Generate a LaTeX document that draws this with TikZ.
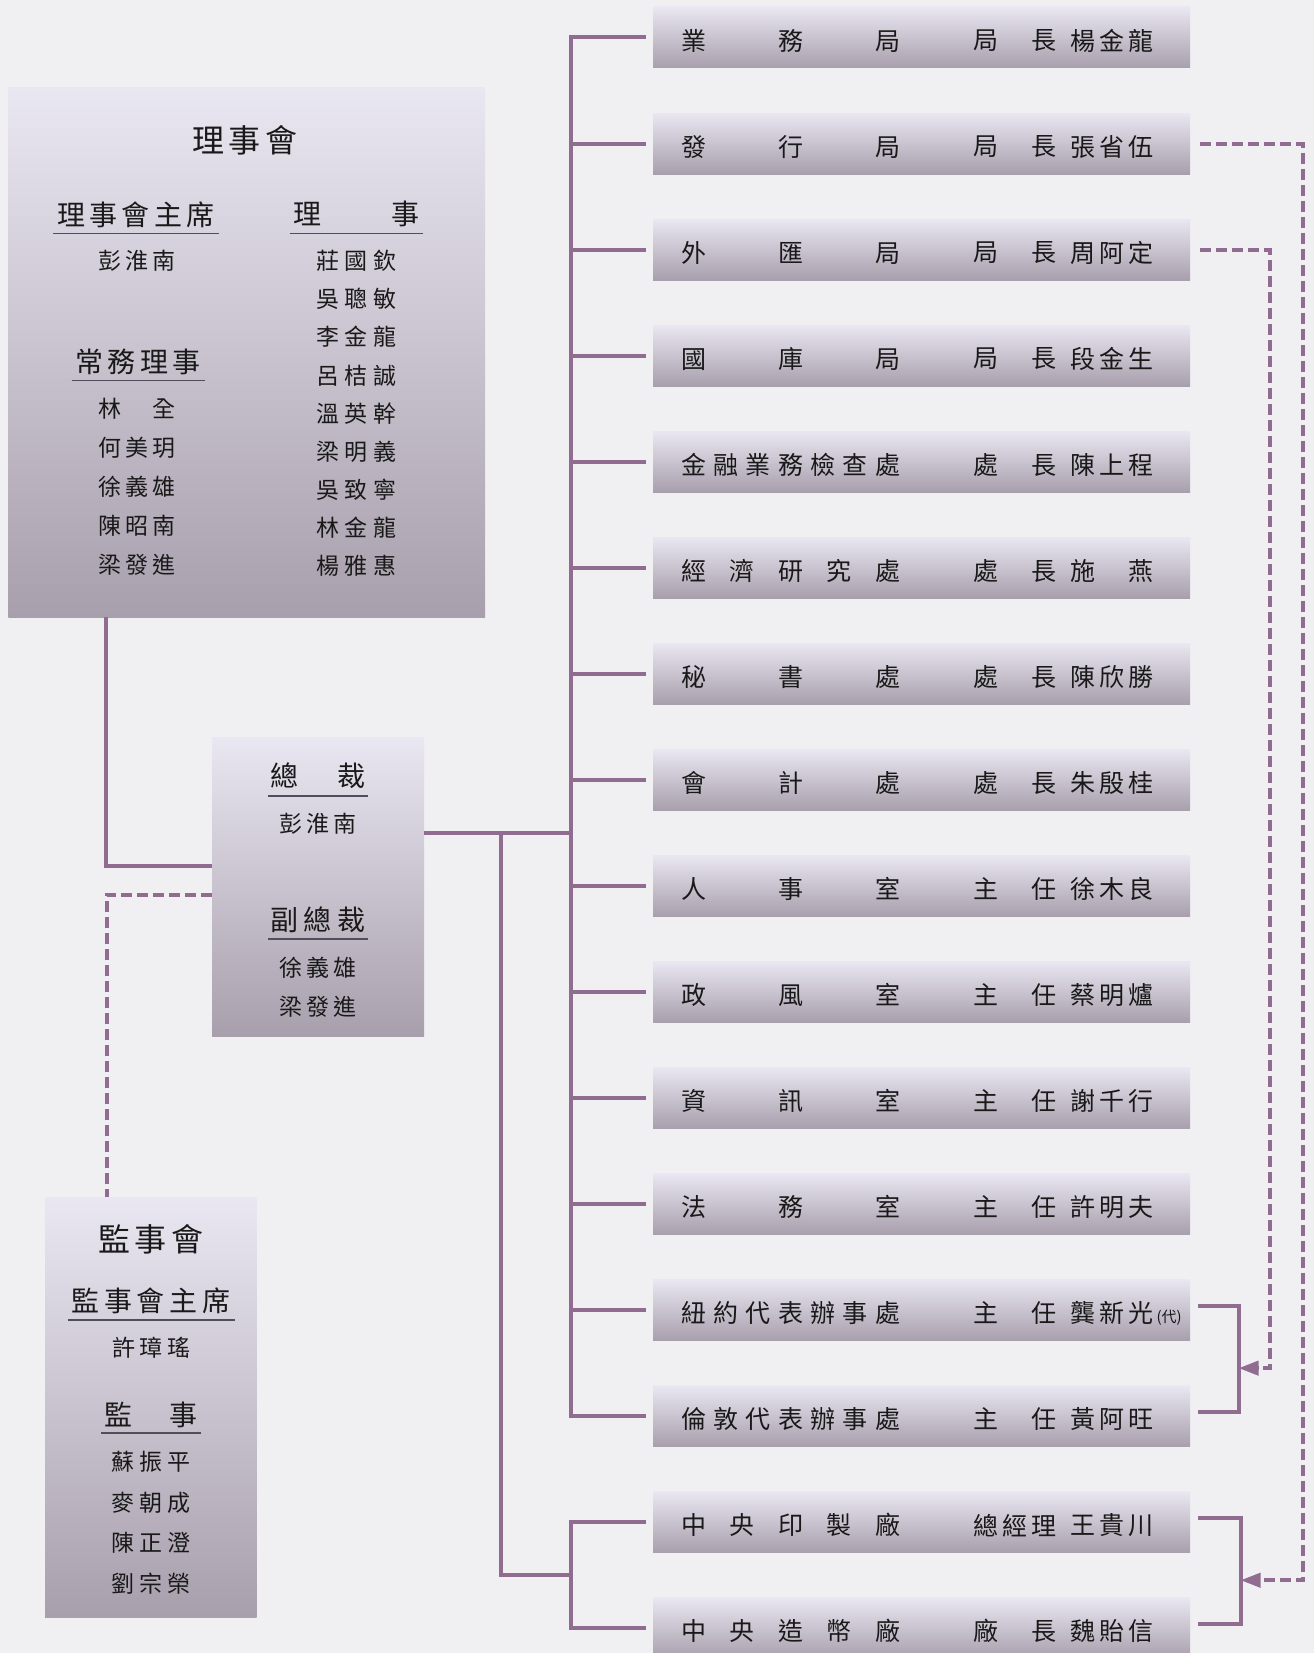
\documentclass[tikz,border=0pt]{standalone}
\usepackage{fontspec}
\newfontfamily\cjk{Noto Sans CJK TC}
\usetikzlibrary{arrows.meta,calc,positioning}
\definecolor{bgGray}{RGB}{240,240,243}
\definecolor{boxTop}{RGB}{233,231,241}
\definecolor{boxBot}{RGB}{168,159,172}
\definecolor{linkP}{RGB}{145,108,145}
\definecolor{ruleG}{RGB}{80,78,88}
\definecolor{inkK}{RGB}{25,25,25}
\newcommand{\spreadto}[2]{\makebox[#1pt][s]{\spaceskip=0pt plus 1fil\relax\ignorespaces#2\unskip}}

\begin{document}
\begin{tikzpicture}[x=1pt,y=-1pt,
  panel/.style={inner sep=0pt,outer sep=0pt,top color=boxTop,bottom color=boxBot,anchor=north west},
  unitbox/.style={panel,anchor=center,minimum width=537pt,minimum height=61pt},
  txt/.style={inner sep=0pt,text=inkK,font=\cjk\fontsize{23}{28}\selectfont},
  unittxt/.style={txt,anchor=west,font=\cjk\fontsize{25}{30}\selectfont},
  headtxt/.style={txt,font=\cjk\fontsize{28}{32}\selectfont},
  titletxt/.style={txt,font=\cjk\fontsize{32}{36}\selectfont},
  rule/.style={ruleG,line width=1.6pt},
  link/.style={linkP,line width=4pt},
  duty/.style={link,dash pattern=on 11pt off 5pt},
  arrowhd/.style={-{Triangle[length=20pt,width=14pt]}}]
\useasboundingbox (0,0) rectangle (1314,1653);
\fill[bgGray] (0,0) rectangle (1314,1653);

% board of directors
\node[panel,minimum width=476.6pt,minimum height=529.5pt] (board) at (8.4,87.5) {};
\node[titletxt] (bd-title) at (244.7,140.8) {\spreadto{105}{理 事 會}};
\node[headtxt] (bd-chair) at (136,214.4) {\spreadto{158}{理 事 會 主 席}};
\node[headtxt] (bd-dir) at (356,214.4) {\spreadto{126}{理 事}};
\node[headtxt] (bd-std) at (138,361.7) {\spreadto{125}{常 務 理 事}};
\draw[rule] ($(bd-chair.center)+(-83,19)$) -- ++(166,0);
\draw[rule] ($(bd-dir.center)+(-66.5,19)$) -- ++(133,0);
\draw[rule] ($(bd-std.center)+(-66.5,18.6)$) -- ++(133,0);
\node[txt] (bd-chairnm) at (137,261) {\spreadto{77}{彭 淮 南}};
\foreach \nm [count=\k from 0] in {林 全,何 美 玥,徐 義 雄,陳 昭 南,梁 發 進}
  \node[txt] (bd-s\k) at (137,{408.3+39.2*\k}) {\spreadto{78}{\nm}};
\foreach \nm [count=\k from 0] in {莊 國 欽,吳 聰 敏,李 金 龍,呂 桔 誠,溫 英 幹,梁 明 義,吳 致 寧,林 金 龍,楊 雅 惠}
  \node[txt] (bd-d\k) at (356.4,{261+38.1*\k}) {\spreadto{80}{\nm}};

% governor and deputies
\node[panel,minimum width=212pt,minimum height=299pt] (pres) at (212,737) {};
\node[headtxt] (pr-head) at (318,776) {\spreadto{95}{總 裁}};
\draw[rule] ($(pr-head.center)+(-50,20)$) -- ++(100,0);
\node[txt] (pr-nm) at (318,824) {\spreadto{78}{彭 淮 南}};
\node[headtxt] (vp-head) at (318,920) {\spreadto{95}{副 總 裁}};
\draw[rule] ($(vp-head.center)+(-50,19)$) -- ++(100,0);
\node[txt] (vp-1) at (318,968) {\spreadto{78}{徐 義 雄}};
\node[txt] (vp-2) at (318,1007) {\spreadto{78}{梁 發 進}};

% supervisors
\node[panel,minimum width=211.5pt,minimum height=420pt] (supv) at (45,1197) {};
\node[titletxt] (sv-title) at (151,1239) {\spreadto{105}{監 事 會}};
\node[headtxt] (sv-chair) at (151,1301) {\spreadto{159}{監 事 會 主 席}};
\draw[rule] ($(sv-chair.center)+(-83.5,19)$) -- ++(167,0);
\node[txt] (sv-chairnm) at (151.5,1348) {\spreadto{79}{許 璋 瑤}};
\node[headtxt] (sv-head) at (151,1415) {\spreadto{94}{監 事}};
\draw[rule] ($(sv-head.center)+(-50,18)$) -- ++(100,0);
\foreach \nm [count=\k from 0] in {蘇 振 平,麥 朝 成,陳 正 澄,劉 宗 榮}
  \node[txt] (sv-m\k) at (151,{1462+40.4*\k}) {\spreadto{79}{\nm}};

% departments
\foreach \dname/\tname/\pname [count=\i] in {業 務 局/局 長/楊 金 龍,發 行 局/局 長/張 省 伍,外 匯 局/局 長/周 阿 定,國 庫 局/局 長/段 金 生,金 融 業 務 檢 查 處/處 長/陳 上 程,經 濟 研 究 處/處 長/施 燕,秘 書 處/處 長/陳 欣 勝,會 計 處/處 長/朱 殷 桂,人 事 室/主 任/徐 木 良,政 風 室/主 任/蔡 明 爐,資 訊 室/主 任/謝 千 行,法 務 室/主 任/許 明 夫,紐 約 代 表 辦 事 處/主 任/龔 新 光,倫 敦 代 表 辦 事 處/主 任/黃 阿 旺,中 央 印 製 廠/總 經 理/王 貴 川,中 央 造 幣 廠/廠 長/魏 貽 信}{
  \node[unitbox] (u\i) at (921.5,{37.5+106.05*(\i-1)}) {};
  \node[unittxt] (u\i-d) at ($(u\i.west)+(28,3)$) {\spreadto{219}{\dname}};
  \node[unittxt] (u\i-t) at ($(u\i.west)+(320,3)$) {\spreadto{83}{\tname}};
  \node[unittxt] (u\i-p) at ($(u\i.west)+(417,3)$) {\spreadto{83}{\pname}};
}
\node[txt,anchor=west,font=\cjk\fontsize{15}{17}\selectfont] (u13-x) at ($(u13-p.east)+(3,5)$) {(代)};

% solid links
\coordinate (trunk) at (570.5,0);
\coordinate (fork) at (501,0);
\coordinate (presout) at ([yshift=54pt]pres.east);
\coordinate (mid2) at ($(u15.west)!0.5!(u16.west)$);
\draw[link] ([xshift=98pt]board.south west) |- ([yshift=21pt]pres.west);
\draw[link] (presout) -- (presout -| trunk);
\draw[link] ([xshift=-7pt]u1.west) -| (u14.west -| trunk) -- ([xshift=-7pt]u14.west);
\foreach \i in {2,...,13}
  \draw[link] (u\i.west -| trunk) -- ([xshift=-7pt]u\i.west);
\draw[link] (presout -| fork) |- (mid2 -| trunk);
\draw[link] ([xshift=-7pt]u15.west) -| (u16.west -| trunk) -- ([xshift=-7pt]u16.west);

% right brackets
\coordinate (brkA) at (1238.5,0);
\coordinate (brkB) at (1240.5,0);
\draw[link] ([xshift=8pt,yshift=4pt]u13.east) -| ([yshift=4pt]u14.east -| brkA) -- ([xshift=8pt,yshift=4pt]u14.east);
\draw[link] ([xshift=8pt,yshift=4pt]u15.east) -| ([yshift=4pt]u16.east -| brkB) -- ([xshift=8pt,yshift=4pt]u16.east);

% dashed links
\coordinate (vA) at (1269.5,0);
\coordinate (vB) at (1303,0);
\coordinate (mA) at ($(u13.east)!0.5!(u14.east)+(0,5)$);
\coordinate (mB) at ($(u15.east)!0.5!(u16.east)+(0,5)$);
\draw[duty] ([yshift=-8pt]pres.west) -| ([xshift=61.5pt]supv.north west);
\draw[duty,arrowhd] ([xshift=10pt]u3.east) -| (mA -| vA) -- (mA -| brkA);
\draw[duty,arrowhd] ([xshift=10pt]u2.east) -| (mB -| vB) -- (mB -| brkB);
\end{tikzpicture}
\end{document}
